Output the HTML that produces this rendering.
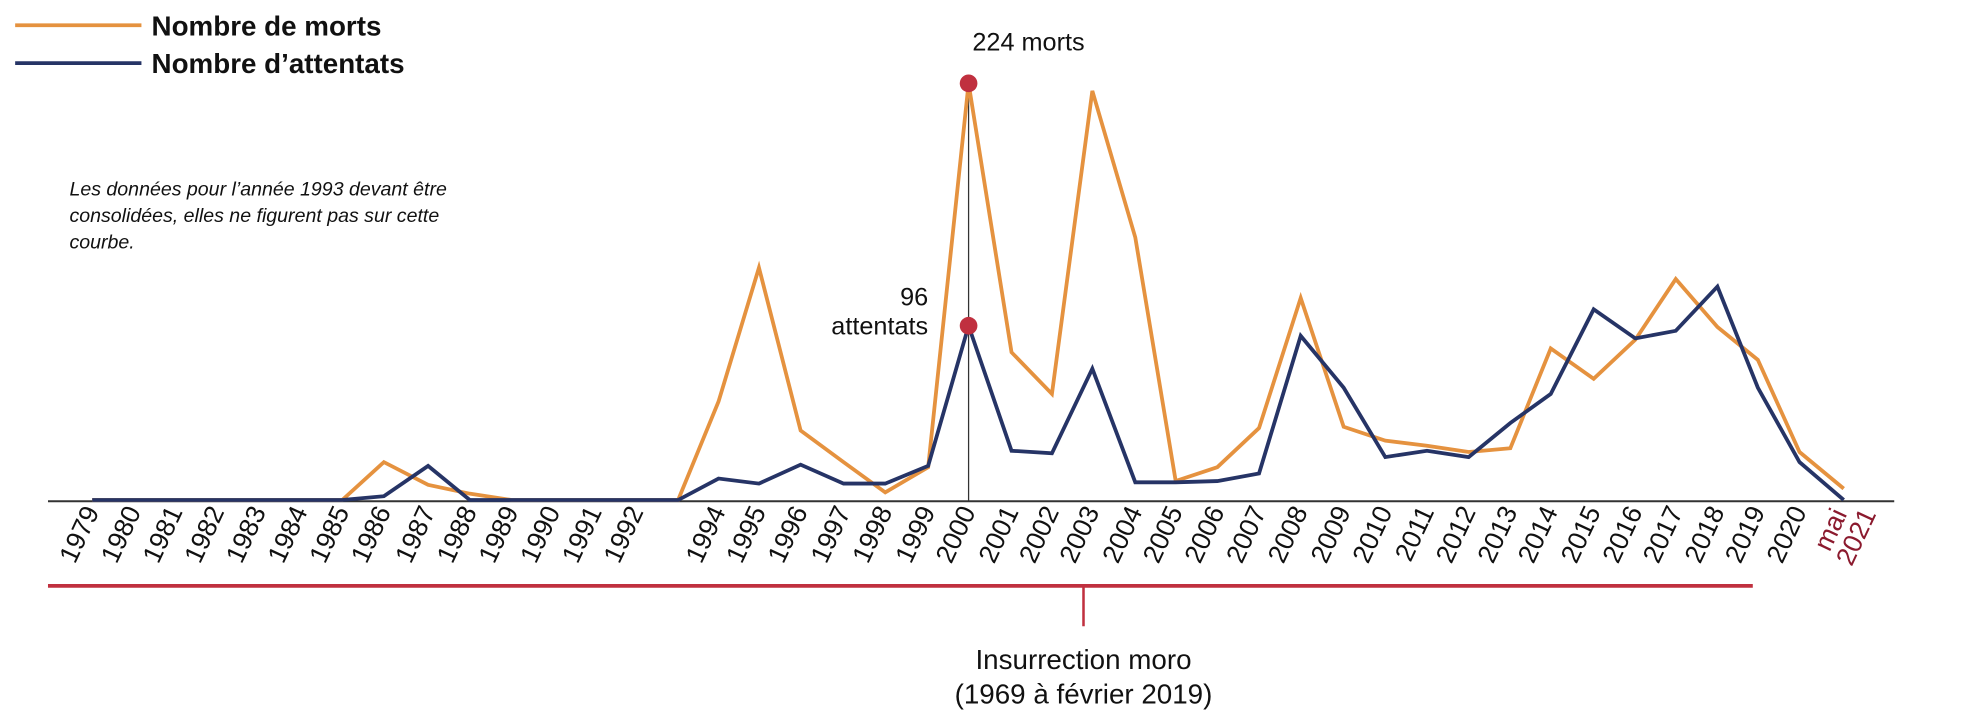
<!DOCTYPE html>
<html><head><meta charset="utf-8"><style>
html,body{margin:0;padding:0;background:#fff;}
svg{display:block;}
text{font-family:"Liberation Sans",sans-serif;}
</style></head><body>
<svg width="1970" height="726" viewBox="0 0 1560 575" preserveAspectRatio="none" xmlns="http://www.w3.org/2000/svg">
<line x1="12" y1="20" x2="112" y2="20" stroke="#e5923f" stroke-width="3"/>
<line x1="12" y1="50" x2="112" y2="50" stroke="#263466" stroke-width="3"/>
<text x="120" y="28" font-size="22" font-weight="bold" fill="#111">Nombre de morts</text>
<text x="120" y="58" font-size="22" font-weight="bold" fill="#111">Nombre d’attentats</text>
<g font-size="15.5" font-style="italic" fill="#111">
<text x="55" y="155">Les données pour l’année 1993 devant être</text>
<text x="55" y="176">consolidées, elles ne figurent pas sur cette</text>
<text x="55" y="197">courbe.</text>
</g>
<line x1="38" y1="397" x2="1500" y2="397" stroke="#333" stroke-width="1.5"/>
<line x1="767" y1="66" x2="767" y2="397" stroke="#333" stroke-width="1"/>
<polyline fill="none" stroke="#e5923f" stroke-width="3" points="73,396 106,396 139,396 172,396 205,396 238,396 271,396 304,366 339,384 372,391 405,396 438,396 471,396 504,396 537,396 569,318 601,212 634,341 668,366 701,390 735,370 767,66 801,279 833,312 865,72 899,188 931,381 964,370 997,339 1030,236 1064,338 1097,349 1130,353 1163,358 1196,355 1228,276 1262,300 1295,269 1327,221 1360,259 1392,285 1425,358 1460,387"/>
<polyline fill="none" stroke="#263466" stroke-width="3" points="73,396 106,396 139,396 172,396 205,396 238,396 271,396 304,393 339,369 372,396 405,396 438,396 471,396 504,396 537,396 569,379 601,383 634,368 668,383 701,383 735,369 767,258 801,357 833,359 865,292 899,382 931,382 964,381 997,375 1030,266 1064,307 1097,362 1130,357 1163,362 1196,335 1228,312 1262,245 1295,268 1327,262 1360,227 1392,307 1425,366 1460,396"/>
<circle cx="767" cy="66" r="7" fill="#c0303f"/>
<circle cx="767" cy="258" r="7" fill="#c0303f"/>
<text x="770" y="40" font-size="20" fill="#111">224 morts</text>
<text x="735" y="242" font-size="20" fill="#111" text-anchor="end">96</text>
<text x="735" y="265" font-size="20" fill="#111" text-anchor="end">attentats</text>
<g font-size="21" fill="#111" text-anchor="end">
<text transform="translate(79,405) rotate(-65)">1979</text>
<text transform="translate(112,405) rotate(-65)">1980</text>
<text transform="translate(145,405) rotate(-65)">1981</text>
<text transform="translate(178,405) rotate(-65)">1982</text>
<text transform="translate(211,405) rotate(-65)">1983</text>
<text transform="translate(244,405) rotate(-65)">1984</text>
<text transform="translate(277,405) rotate(-65)">1985</text>
<text transform="translate(310,405) rotate(-65)">1986</text>
<text transform="translate(345,405) rotate(-65)">1987</text>
<text transform="translate(378,405) rotate(-65)">1988</text>
<text transform="translate(411,405) rotate(-65)">1989</text>
<text transform="translate(444,405) rotate(-65)">1990</text>
<text transform="translate(477,405) rotate(-65)">1991</text>
<text transform="translate(510,405) rotate(-65)">1992</text>
<text transform="translate(575,405) rotate(-65)">1994</text>
<text transform="translate(607,405) rotate(-65)">1995</text>
<text transform="translate(640,405) rotate(-65)">1996</text>
<text transform="translate(674,405) rotate(-65)">1997</text>
<text transform="translate(707,405) rotate(-65)">1998</text>
<text transform="translate(741,405) rotate(-65)">1999</text>
<text transform="translate(773,405) rotate(-65)">2000</text>
<text transform="translate(807,405) rotate(-65)">2001</text>
<text transform="translate(839,405) rotate(-65)">2002</text>
<text transform="translate(871,405) rotate(-65)">2003</text>
<text transform="translate(905,405) rotate(-65)">2004</text>
<text transform="translate(937,405) rotate(-65)">2005</text>
<text transform="translate(970,405) rotate(-65)">2006</text>
<text transform="translate(1003,405) rotate(-65)">2007</text>
<text transform="translate(1036,405) rotate(-65)">2008</text>
<text transform="translate(1070,405) rotate(-65)">2009</text>
<text transform="translate(1103,405) rotate(-65)">2010</text>
<text transform="translate(1136,405) rotate(-65)">2011</text>
<text transform="translate(1169,405) rotate(-65)">2012</text>
<text transform="translate(1202,405) rotate(-65)">2013</text>
<text transform="translate(1234,405) rotate(-65)">2014</text>
<text transform="translate(1268,405) rotate(-65)">2015</text>
<text transform="translate(1301,405) rotate(-65)">2016</text>
<text transform="translate(1333,405) rotate(-65)">2017</text>
<text transform="translate(1366,405) rotate(-65)">2018</text>
<text transform="translate(1398,405) rotate(-65)">2019</text>
<text transform="translate(1431,405) rotate(-65)">2020</text>
<text transform="translate(1463,407) rotate(-65)" fill="#8b1a2e">mai</text>
<text transform="translate(1486,407) rotate(-65)" fill="#8b1a2e">2021</text>
</g>
<line x1="38" y1="464" x2="1388" y2="464" stroke="#c0303f" stroke-width="3"/>
<line x1="858" y1="464" x2="858" y2="496" stroke="#c0303f" stroke-width="2"/>
<text x="858" y="530" font-size="22" fill="#111" text-anchor="middle">Insurrection moro</text>
<text x="858" y="557" font-size="22" fill="#111" text-anchor="middle">(1969 à février 2019)</text>
</svg>
</body></html>
